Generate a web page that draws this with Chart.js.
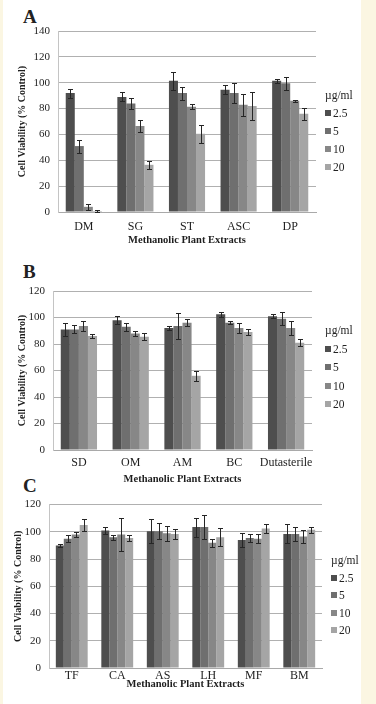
<!DOCTYPE html>
<html>
<head>
<meta charset="utf-8">
<script src="https://cdn.jsdelivr.net/npm/chart.js@4/dist/chart.umd.min.js"></script>
<style>
    html, body { margin: 0; padding: 0; }
    body { width: 376px; height: 704px; background: #fbf6e2; position: relative; overflow: hidden; font-family: "Liberation Serif", "Times New Roman", "DejaVu Serif", serif; color: #222; }
    .sheet { position: absolute; left: 3px; top: 0; width: 358px; height: 704px; background: #fff; }
    canvas { position: absolute; left: 0; }
    .letter { position: absolute; left: 23px; font-size: 19px; font-weight: bold; line-height: 19px; }
    .legend { position: absolute; font-size: 11.5px; line-height: 12px; }
    .legend .item { position: absolute; left: 0; white-space: nowrap; }
    .legend .box { display: inline-block; width: 6px; height: 6px; margin-right: 2px; vertical-align: 1px; }
</style>
</head>
<body>
<div class="sheet"></div>
<div class="letter" style="top:7px;">A</div>
<div class="letter" style="top:262px;">B</div>
<div class="letter" style="top:476px;">C</div>
<canvas id="chartA" width="360" height="250" style="top:0px;"></canvas>
<canvas id="chartB" width="360" height="235" style="top:255px;"></canvas>
<canvas id="chartC" width="360" height="204" style="top:490px;"></canvas>
<div id="legendA" class="legend" style="left:325px; top:89px;"></div>
<div id="legendB" class="legend" style="left:325px; top:324px;"></div>
<div id="legendC" class="legend" style="left:331px; top:554px;"></div>
<script>
const doses = ['2.5', '5', '10', '20'];
const doseColors = ['#4e4e4e', '#6f6f6f', '#878787', '#a5a5a5'];

const extractsA = ['DM', 'SG', 'ST', 'ASC', 'DP'];
const meansA = [
    [92, 89, 101.5, 94.5, 101.5],
    [51, 84, 92, 92, 99.5],
    [4, 66.5, 81.5, 83, 86],
    [0.8, 36.5, 60.5, 82, 76]
];
const errorsA = [
    [3.5, 3.5, 7, 3.5, 1.5],
    [5, 4.5, 5, 8, 5],
    [2.5, 5, 2, 8.5, 1],
    [0.5, 3, 7, 11, 4.5]
];

const extractsB = ['SD', 'OM', 'AM', 'BC', 'Dutasterile'];
const meansB = [
    [91, 98, 92, 102.5, 101],
    [91, 93, 93.5, 96, 99],
    [93.5, 88, 96, 92, 92],
    [86, 85.5, 56, 89, 81]
];
const errorsB = [
    [5, 3, 1.5, 2, 1.5],
    [3, 3, 10, 1, 5],
    [4, 2, 2.5, 4, 5],
    [1.5, 2.5, 4, 2, 2.5]
];

const extractsC = ['TF', 'CA', 'AS', 'LH', 'MF', 'BM'];
const meansC = [
    [90, 101, 100.5, 103.5, 94, 98.5],
    [95, 96, 100.5, 103.5, 95.5, 98.5],
    [98, 98, 99, 92, 95, 96.5],
    [105, 95.5, 98.5, 96, 102.5, 101.5]
];
const errorsC = [
    [1, 2.5, 9, 7, 5, 7],
    [2.5, 2, 6, 9, 3, 5],
    [2, 12, 5.5, 3, 3.5, 5],
    [4.5, 2.5, 3.5, 6.5, 3, 2]
];

const yTicksA = { max: 140, step: 20 };
const yTicksBC = { max: 120, step: 20 };

const serif = "'Liberation Serif', 'Times New Roman', 'DejaVu Serif', serif";
Chart.defaults.font.family = serif;

// simple error bar drawing on top of the bars
const errorBars = {
    id: 'errorBars',
    afterDatasetsDraw(chart) {
        const ctx = chart.ctx;
        const yScale = chart.scales.y;
        ctx.save();
        ctx.strokeStyle = '#262626';
        ctx.lineWidth = 1;
        chart.data.datasets.forEach((ds, i) => {
            const meta = chart.getDatasetMeta(i);
            meta.data.forEach((bar, j) => {
                const v = ds.data[j];
                const e = ds.errors[j];
                const top = Math.round(yScale.getPixelForValue(v + e)) + 0.5;
                const bot = Math.round(yScale.getPixelForValue(Math.max(v - e, 0))) + 0.5;
                const x = Math.round(bar.x) + 0.5;
                ctx.beginPath();
                ctx.moveTo(x, top);
                ctx.lineTo(x, bot);
                ctx.moveTo(x - 2.5, top);
                ctx.lineTo(x + 2.5, top);
                ctx.moveTo(x - 2.5, bot);
                ctx.lineTo(x + 2.5, bot);
                ctx.stroke();
            });
        });
        ctx.restore();
    }
};

function buildChart(id, labels, means, errors, ticks, layout) {
    const ctx = document.getElementById(id).getContext('2d');
    return new Chart(ctx, {
        type: 'bar',
        data: {
            labels: labels,
            datasets: doses.map((d, i) => ({
                label: d,
                data: means[i],
                errors: errors[i],
                backgroundColor: doseColors[i],
                borderWidth: 0,
                categoryPercentage: 0.7,
                barPercentage: 1.0
            }))
        },
        options: {
            responsive: false,
            animation: false,
            layout: { padding: layout.padding },
            plugins: {
                legend: { display: false },
                tooltip: { enabled: false }
            },
            scales: {
                x: {
                    grid: { display: false, drawTicks: false },
                    border: { display: true, color: '#a9a9a9', width: 1 },
                    ticks: {
                        color: '#1e1e1e',
                        padding: layout.xTickPad,
                        maxRotation: 0,
                        minRotation: 0,
                        autoSkip: false,
                        font: { family: serif, size: 12 }
                    },
                    title: {
                        display: true,
                        text: 'Methanolic Plant Extracts',
                        color: '#1e1e1e',
                        padding: { top: 0, bottom: layout.xTitlePad },
                        font: { family: serif, size: 10.5, weight: 'bold' }
                    },
                    afterFit(scale) { scale.height = layout.xHeight; }
                },
                y: {
                    min: 0,
                    max: ticks.max,
                    grid: { color: '#b0b0b0', lineWidth: 1, drawTicks: false },
                    border: { display: true, color: '#c4c4c4', width: 1 },
                    ticks: {
                        stepSize: ticks.step,
                        color: '#1e1e1e',
                        padding: 8,
                        font: { family: serif, size: 11 }
                    },
                    title: {
                        display: true,
                        text: 'Cell Viability (% Control)',
                        color: '#1e1e1e',
                        padding: { top: 2, bottom: 0 },
                        font: { family: serif, size: 10, weight: 'bold' }
                    },
                    afterFit(scale) { scale.width = layout.yWidth; }
                }
            }
        },
        plugins: [errorBars]
    });
}

function buildLegend(id, spacing) {
    const el = document.getElementById(id);
    let html = '<div class="item" style="top:0px;">\u00b5g/ml</div>';
    doses.forEach((d, i) => {
        html += `<div class="item" style="top:${(i + 1) * spacing}px;"><span class="box" style="background:${doseColors[i]}"></span>${d}</div>`;
    });
    el.innerHTML = html;
}

buildChart('chartA', extractsA, meansA, errorsA, yTicksA, {
    padding: { top: 31, left: 14, right: 44, bottom: 0 },
    yWidth: 44, xHeight: 38, xTickPad: 8, xTitlePad: 3
});
buildChart('chartB', extractsB, meansB, errorsB, yTicksBC, {
    padding: { top: 36, left: 14, right: 48, bottom: 0 },
    yWidth: 39, xHeight: 40, xTickPad: 6, xTitlePad: 4
});
buildChart('chartC', extractsC, meansC, errorsC, yTicksBC, {
    padding: { top: 13, left: 10, right: 38, bottom: 0 },
    yWidth: 39, xHeight: 26, xTickPad: 1, xTitlePad: 3
});

buildLegend('legendA', 18);
buildLegend('legendB', 18.5);
buildLegend('legendC', 17.5);
</script>
</body>
</html>
